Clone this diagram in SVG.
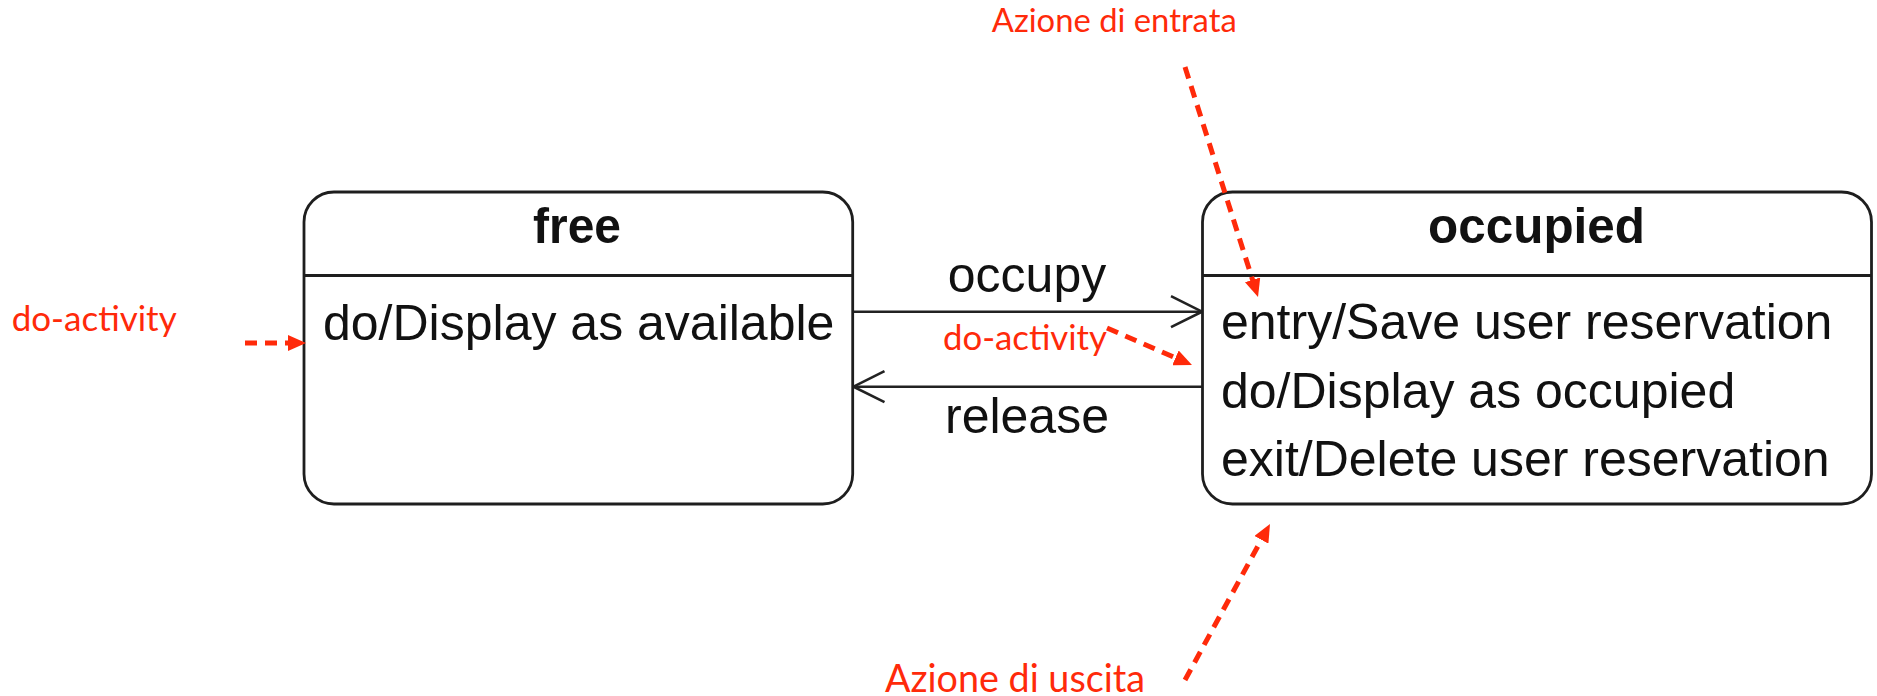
<svg xmlns="http://www.w3.org/2000/svg" width="1877" height="696" viewBox="0 0 1877 696">
<style>
.box{fill:#fff;stroke:#1e1e1e;stroke-width:2.8}
.div{stroke:#1e1e1e;stroke-width:2.8}
.title{font-family:"Liberation Sans",Arial,sans-serif;font-weight:bold;font-size:50px;fill:#111;text-anchor:middle}
.body{font-family:"Liberation Sans",Arial,sans-serif;font-size:50px;fill:#111}
.lbl{font-family:"Liberation Sans",Arial,sans-serif;font-size:50px;fill:#111;text-anchor:middle}
.tr{stroke:#222;stroke-width:2.6;fill:none}
.note{font-family:Lato,"Open Sans",sans-serif;fill:#ff2a0a}
.dash{stroke:#ff2a0a;stroke-width:5;stroke-dasharray:12 8;fill:none}
</style>
<defs>
<marker id="open" markerUnits="userSpaceOnUse" viewBox="0 0 34 34" refX="32" refY="17" markerWidth="34" markerHeight="34" orient="auto">
<path d="M1,1.5 L32,17 L1,32.5" fill="none" stroke="#222" stroke-width="2.6"/>
</marker>
<marker id="red" markerUnits="userSpaceOnUse" viewBox="0 0 18 16" refX="8" refY="8" markerWidth="18" markerHeight="16" orient="auto">
<path d="M0,0 L18,8 L0,16 z" fill="#ff2a0a"/>
</marker>
</defs>
<rect width="1877" height="696" fill="#fff"/>
<g id="connectors">
<line class="tr" x1="852.7" y1="311.7" x2="1202" y2="311.7" marker-end="url(#open)"/>
<line class="tr" x1="1202" y1="386.7" x2="853.5" y2="386.7" marker-end="url(#open)"/>
<text class="lbl" x="1027" y="292">occupy</text>
<text class="lbl" x="1027" y="433">release</text>
</g>
<g id="free">
<rect class="box" x="304" y="192" width="548.7" height="312" rx="30" ry="30"/>
<line class="div" x1="304" y1="275.5" x2="852.7" y2="275.5"/>
<text class="title" x="577" y="243" textLength="88" lengthAdjust="spacingAndGlyphs">free</text>
<text class="body" x="323" y="340">do/Display as available</text>
</g>
<g id="occupied">
<rect class="box" x="1202.5" y="192" width="669" height="312" rx="30" ry="30"/>
<line class="div" x1="1202.5" y1="275.5" x2="1871.5" y2="275.5"/>
<text class="title" x="1536.5" y="243" textLength="217" lengthAdjust="spacingAndGlyphs">occupied</text>
<text class="body" x="1221" y="339">entry/Save user reservation</text>
<text class="body" x="1221" y="408">do/Display as occupied</text>
<text class="body" x="1221" y="476">exit/Delete user reservation</text>
</g>
<g id="annotations">
<text class="note" x="11.7" y="330.5" font-size="35" textLength="165" lengthAdjust="spacingAndGlyphs">do-activity</text>
<text class="note" x="943" y="350" font-size="35" textLength="164" lengthAdjust="spacingAndGlyphs">do-activity</text>
<text class="note" x="991.7" y="32.3" font-size="33" textLength="245" lengthAdjust="spacingAndGlyphs">Azione di entrata</text>
<text class="note" x="885" y="691.7" font-size="38" textLength="260" lengthAdjust="spacingAndGlyphs">Azione di uscita</text>
<line class="dash" x1="245" y1="343" x2="296" y2="343" marker-end="url(#red)"/>
<line class="dash" x1="1107" y1="328" x2="1182.8" y2="361" marker-end="url(#red)"/>
<line class="dash" x1="1185" y1="67" x2="1255" y2="287.5" marker-end="url(#red)"/>
<line class="dash" x1="1185" y1="680" x2="1265.2" y2="532.8" marker-end="url(#red)"/>
</g>
</svg>
